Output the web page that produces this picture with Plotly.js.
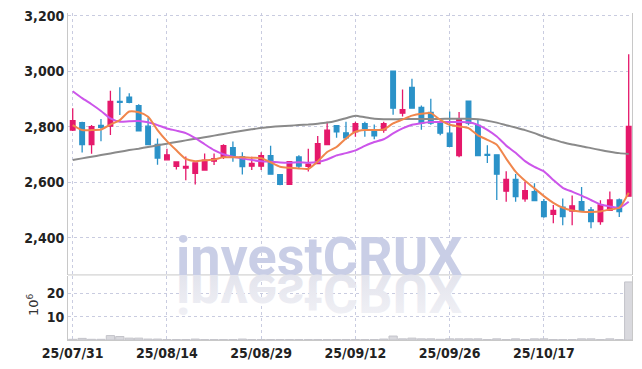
<!DOCTYPE html>
<html><head><meta charset="utf-8">
<script src="https://cdn.plot.ly/plotly-3.0.1.min.js"></script>
<style>html,body{margin:0;padding:0;background:#fff}#chart{width:642px;height:369px}</style>
</head><body><div id="chart"></div>
<script>
const dates = ['25/07/31','25/08/01','25/08/04','25/08/05','25/08/06','25/08/07','25/08/08','25/08/11','25/08/12','25/08/13',
'25/08/14','25/08/18','25/08/19','25/08/20','25/08/21','25/08/22','25/08/25','25/08/26','25/08/27','25/08/28',
'25/08/29','25/09/01','25/09/02','25/09/03','25/09/04','25/09/05','25/09/08','25/09/09','25/09/10','25/09/11',
'25/09/12','25/09/15','25/09/16','25/09/17','25/09/18','25/09/19','25/09/22','25/09/23','25/09/24','25/09/25',
'25/09/26','25/09/29','25/09/30','25/10/01','25/10/02','25/10/10','25/10/13','25/10/14','25/10/15','25/10/16',
'25/10/17','25/10/20','25/10/21','25/10/22','25/10/23','25/10/24','25/10/27','25/10/28','25/10/29','25/10/30'];
const tickDates = ['25/07/31','25/08/14','25/08/29','25/09/12','25/09/26','25/10/17'];
const openP  = [2788,2815,2736,2805,2802,2891,2907,2876,2802,2736,2681,2657,2651,2632,2644,2676,2690,2725,2692,2658,
2658,2696,2627,2592,2691,2657,2667,2736,2804,2778,2782,2811,2785,2788,3000,2849,2942,2870,2852,2816,
2777,2696,2892,2805,2700,2699,2568,2610,2540,2566,2530,2484,2510,2496,2530,2500,2458,2499,2536,2550];
const highP  = [2867,2818,2806,2828,2930,2942,2921,2881,2833,2758,2721,2676,2693,2670,2704,2704,2737,2747,2708,2692,
2708,2732,2627,2676,2697,2721,2767,2818,2804,2818,2818,2818,2808,2818,3000,2934,2973,2877,2901,2816,
2855,2853,2892,2825,2733,2699,2640,2630,2602,2596,2540,2518,2541,2552,2583,2511,2535,2567,2541,3061];
const lowP   = [2785,2707,2703,2748,2770,2842,2885,2783,2733,2663,2681,2646,2607,2592,2644,2662,2684,2674,2628,2644,
2644,2629,2589,2592,2648,2639,2667,2733,2760,2753,2764,2764,2755,2778,2843,2837,2867,2789,2807,2769,
2729,2690,2805,2694,2669,2536,2530,2530,2530,2534,2472,2452,2445,2445,2496,2434,2447,2499,2475,2550];
const closeP = [2822,2736,2800,2798,2891,2888,2888,2785,2736,2687,2699,2673,2657,2670,2680,2685,2732,2692,2656,2668,
2696,2629,2592,2674,2658,2665,2739,2788,2782,2760,2811,2794,2767,2811,2867,2862,2867,2813,2813,2777,
2729,2829,2813,2696,2697,2629,2610,2548,2570,2534,2476,2499,2476,2515,2496,2458,2518,2536,2494,2801];
const ma5  = [2806,2788,2788,2790,2808,2824,2855,2852,2836,2788,2748,2715,2684,2676,2679,2682,2690,2690,2690,2688,
2687,2672,2656,2652,2650,2648,2675,2709,2727,2758,2782,2788,2788,2790,2812,2826,2840,2847,2849,2825,
2807,2801,2795,2769,2753,2735,2685,2638,2605,2578,2550,2526,2508,2498,2494,2493,2495,2502,2508,2562];
const ma10 = [2928,2903,2881,2857,2830,2818,2820,2821,2816,2806,2794,2786,2777,2759,2737,2716,2701,2692,2686,2680,
2676,2674,2671,2670,2672,2670,2673,2682,2697,2705,2715,2731,2745,2755,2776,2794,2807,2813,2817,2817,
2817,2817,2816,2807,2789,2765,2732,2706,2676,2655,2639,2608,2580,2566,2552,2536,2520,2513,2508,2530];
const maLong = [2680,2686,2692,2698,2704,2710,2716,2721,2727,2733,2739,2745,2751,2757,2762,2768,2774,2780,2786,2791,
2796,2799,2802,2804,2806,2808,2811,2815,2822,2831,2840,2834,2829,2827,2827,2828,2828,2828,2828,2828,
2829,2829,2829,2827,2822,2815,2806,2797,2788,2777,2764,2754,2744,2736,2730,2723,2716,2710,2705,2702];
const volumeM = [0.3,0.7,0.3,0.3,1.9,1.5,0.8,0.8,0.4,0.4,0.2,0.2,0.2,0.4,0.2,0.2,0.2,0.2,0.4,0.2,
0.2,0.2,0.2,0.2,0.2,0.2,0.2,0.2,0.2,0.2,0.2,0.2,0.2,0.4,1.7,0.5,0.8,0.5,0.5,0.3,
0.5,0.5,0.5,0.5,0.2,0.5,0.2,0.5,0.2,0.5,0.5,0.2,0.2,0.2,0.5,0.5,0.2,0.5,0.2,25.0];

const UP = '#e5186b', DOWN = '#2b92c8';
const tickFont = {family:'"Liberation Sans Narrow","DejaVu Sans Condensed",sans-serif', size:14, color:'#222', weight:'bold'};
const gridC = '#c9cce0';

const traces = [
  {type:'bar', x:dates, y:volumeM, xaxis:'x', yaxis:'y2',
   marker:{color:'#d9d9de', line:{color:'#c4c4ca', width:1}}, hoverinfo:'skip'},
  {type:'candlestick', x:dates, open:openP, high:highP, low:lowP, close:closeP, xaxis:'x', yaxis:'y',
   increasing:{line:{color:UP, width:1.3}, fillcolor:UP},
   decreasing:{line:{color:DOWN, width:1.3}, fillcolor:DOWN}, whiskerwidth:0, hoverinfo:'skip'},
  {type:'scatter', mode:'lines', x:dates, y:maLong, xaxis:'x', yaxis:'y', line:{color:'#8a8a8a', width:2, shape:'spline', smoothing:0.6}, hoverinfo:'skip'},
  {type:'scatter', mode:'lines', x:dates, y:ma10, xaxis:'x', yaxis:'y', line:{color:'#cc55ea', width:2, shape:'spline', smoothing:0.6}, hoverinfo:'skip'},
  {type:'scatter', mode:'lines', x:dates, y:ma5, xaxis:'x', yaxis:'y', line:{color:'#f0864c', width:2, shape:'spline', smoothing:0.6}, hoverinfo:'skip'}
];

const layout = {
  width:642, height:369, showlegend:false,
  paper_bgcolor:'#fff', plot_bgcolor:'#fff',
  margin:{l:68, r:10, t:13, b:29},
  bargap:0.12,
  xaxis:{type:'category', anchor:'y2', range:[-0.5,59.35], tickmode:'array', tickvals:tickDates, ticktext:tickDates,
    showgrid:true, gridcolor:gridC, griddash:'dot', gridwidth:1, tickfont:tickFont, ticks:'', ticklen:0,
    showline:true, linecolor:'#c8c8c8', linewidth:1, zeroline:false, rangeslider:{visible:false}, fixedrange:true},
  yaxis:{domain:[0.199,1], range:[2266,3210], tickmode:'array', tickvals:[2400,2600,2800,3000,3200],
    tickformat:',d', showgrid:true, gridcolor:gridC, griddash:'dot', tickfont:tickFont, ticks:'',
    showline:true, mirror:true, linecolor:'#c8c8c8', linewidth:1, zeroline:false},
  yaxis2:{domain:[0,0.196], range:[0,27.6], tickmode:'array', tickvals:[10,20], ticktext:['10','20'],
    showgrid:true, gridcolor:gridC, griddash:'dot', tickfont:tickFont, ticks:'',
    showline:true, mirror:true, linecolor:'#c8c8c8', linewidth:1, zeroline:false},
  shapes:[{type:'line', xref:'paper', yref:'y domain', x0:0, x1:1, y0:0, y1:0, line:{color:'#c8c8c8', width:1}}],
  annotations:[
    {text:'investCRUX', xref:'paper', yref:'paper', x:0.446, y:0.254, xanchor:'center', yanchor:'middle', showarrow:false,
     font:{family:'Roboto, sans-serif', size:54, color:'#c9cee6', weight:'bold'}},
    {text:'investCRUX', xref:'paper', yref:'paper', x:0.446, y:0.254, xanchor:'center', yanchor:'middle', showarrow:false,
     font:{family:'Roboto, sans-serif', size:54, color:'#e4e5ee', weight:'bold'}},
    {text:'10<sup>6</sup>', xref:'paper', yref:'paper', x:-0.062, y:0.107, xanchor:'center', yanchor:'middle', showarrow:false,
     textangle:-90, font:{family:'DejaVu Sans, sans-serif', size:13, color:'#333'}}
  ]
};

Plotly.newPlot('chart', traces, layout, {displayModeBar:false, staticPlot:true}).then(function(){
  const texts = document.querySelectorAll('.annotation-text');
  if (texts.length > 1) {
    const t = texts[1];
    const y = parseFloat(t.getAttribute('y')) || 0;
    t.setAttribute('transform', 'translate(0,' + (2*y) + ') scale(1,-1)');
    const svg = document.querySelector('.main-svg');
    const ns = 'http://www.w3.org/2000/svg';
    let defs = svg.querySelector('defs');
    if (!defs) { defs = document.createElementNS(ns,'defs'); svg.insertBefore(defs, svg.firstChild); }
    const g = document.createElementNS(ns,'linearGradient');
    g.setAttribute('id','wmfade'); g.setAttribute('x1','0'); g.setAttribute('y1','0'); g.setAttribute('x2','0'); g.setAttribute('y2','1');
    [['0','#f3f3f7'],['1','#dfe0ea']].forEach(function(s){
      const st = document.createElementNS(ns,'stop'); st.setAttribute('offset',s[0]); st.setAttribute('stop-color',s[1]); g.appendChild(st);
    });
    defs.appendChild(g);
    t.style.fill = 'url(#wmfade)';
  }
});
</script>
</body></html>
